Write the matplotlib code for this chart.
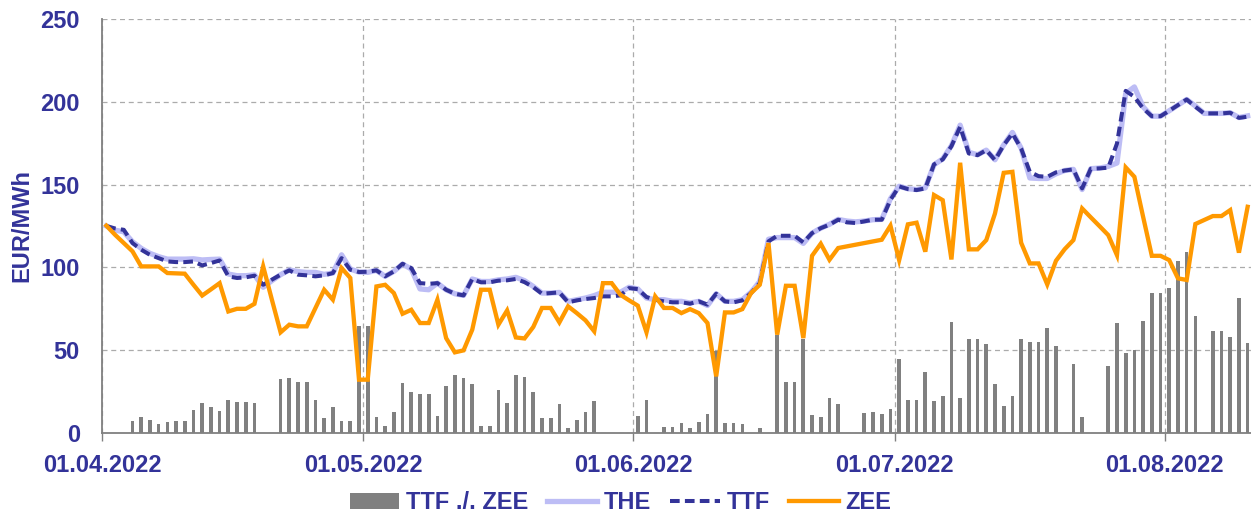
import matplotlib
matplotlib.use('Agg')
import matplotlib.pyplot as plt
import matplotlib.dates as mdates
import pandas as pd
from matplotlib.lines import Line2D
from matplotlib.patches import Patch

plt.rcParams['font.family'] = ['Liberation Sans', 'DejaVu Sans']

start = '2022-04-01'
n_days = 132

TTF = [125.0,123.5,122.7,114.7,110.7,107.6,105.6,103.6,103.2,103.2,
       103.6,101.2,102.6,104.2,94.6,93.6,94.0,95.0,89.5,92.6,
       95.6,98.2,95.6,95.2,94.6,95.2,96.6,105.6,98.6,97.2,
       97.4,98.2,94.6,97.6,102.2,99.6,90.5,90.1,90.5,86.5,
       84.1,83.1,93.0,91.0,91.0,92.0,92.2,93.0,91.1,88.1,
       84.1,84.5,84.9,78.9,80.1,80.9,81.5,82.5,82.5,83.1,
       87.5,86.9,82.1,80.5,79.5,78.9,78.9,78.1,79.5,77.5,
       84.1,79.5,78.9,80.1,84.5,90.5,115.7,119.1,119.1,119.1,
       115.1,120.7,123.7,125.8,128.8,127.2,126.8,127.8,128.8,128.8,
       140.8,148.9,147.3,146.7,147.7,162.2,165.2,173.2,184.9,168.8,
       167.8,170.8,164.8,173.8,180.9,171.8,157.7,155.1,154.7,157.4,
       158.5,159.2,147.7,159.6,159.8,160.2,174.8,206.6,203.0,196.0,
       191.3,191.3,194.6,198.0,201.4,197.0,193.0,193.0,193.0,193.4,
       190.3,191.0]

THE = [125.0,122.5,121.5,115.5,111.5,108.5,106.5,105.0,105.0,105.0,
       105.2,104.5,104.8,105.0,96.0,95.0,95.0,95.5,88.0,92.0,
       95.6,98.5,97.5,97.0,97.0,95.8,96.6,107.6,99.0,97.2,
       97.0,98.2,94.6,97.6,102.0,99.0,87.0,86.5,90.5,86.5,
       84.1,83.1,93.0,91.5,91.5,92.5,93.0,94.0,92.0,88.5,
       84.5,84.5,84.9,79.5,80.5,81.5,83.0,85.0,85.0,85.0,
       88.0,87.0,81.5,80.5,80.5,79.5,79.5,78.5,79.5,77.0,
       84.1,79.5,79.5,80.5,85.0,91.5,117.0,118.0,118.0,118.0,
       114.5,120.7,123.7,126.0,129.0,128.0,127.5,128.0,128.8,129.0,
       141.5,149.0,147.5,147.0,148.0,162.0,165.5,173.5,185.9,169.5,
       168.0,170.8,165.0,174.0,181.5,172.0,154.0,153.7,153.7,156.5,
       158.5,159.2,147.0,159.6,160.0,161.0,163.0,205.0,209.0,197.0,
       191.3,191.3,194.6,198.0,201.4,197.5,193.0,193.0,193.0,193.4,
       190.5,191.5]

ZEE = [125.2,119.7,114.7,109.7,100.6,100.6,100.6,96.6,96.4,96.2,
       89.5,83.0,86.7,90.5,73.4,75.0,75.0,78.0,100.6,80.5,
       60.8,65.4,64.4,64.4,75.5,86.5,80.5,99.6,93.6,32.2,
       32.2,88.5,89.5,84.5,72.0,74.4,66.4,66.4,80.5,57.3,
       48.7,49.9,62.4,86.5,86.5,65.4,74.0,57.7,57.1,64.0,
       75.5,75.5,66.8,76.5,72.4,68.0,61.4,90.5,90.5,83.5,
       80.1,76.9,60.8,82.5,75.5,75.5,72.4,74.8,72.4,66.4,
       34.2,72.8,72.8,74.8,84.5,89.5,114.7,59.4,88.9,88.9,
       57.3,107.0,114.3,104.6,111.7,112.7,113.7,114.7,115.7,116.7,
       125.2,104.4,126.0,127.0,109.5,143.7,140.6,104.8,163.2,110.9,
       110.9,116.5,132.6,157.1,157.7,114.9,102.4,102.4,89.7,104.0,
       111.0,116.5,135.6,130.2,124.9,119.5,107.4,160.4,154.7,130.6,
       107.0,107.0,104.4,93.4,92.4,126.2,128.6,131.0,131.0,134.6,
       108.9,136.6]

SPREAD = [0,0,0,7.4,9.5,7.8,5.6,6.6,7.0,7.0,
          13.7,18.0,16.0,13.3,20.0,19.0,19.0,18.0,-11,0,
          32.6,33.0,31.0,31.0,19.7,9.1,15.5,7.0,7.0,64.8,
          64.8,9.7,4.4,12.5,30.2,24.5,23.7,23.5,10.5,28.2,
          35.2,33.2,29.8,4.4,4.4,26.2,18.1,35.0,33.8,24.5,
          8.9,8.9,17.7,2.8,8.0,12.9,19.5,-8,-8,0,
          0,10.3,20.0,0,3.6,3.6,6.0,3.0,6.5,11.4,
          49.5,6.3,6.3,5.5,-2,3.0,-2,59.2,30.8,30.8,
          56.7,11.0,9.4,21.0,17.4,0,0,12.0,12.9,11.4,
          14.5,44.5,19.9,19.9,37.0,19.5,22.5,67.2,21.0,56.6,
          56.6,53.6,29.6,16.3,22.5,56.6,54.8,54.8,63.6,52.5,
          0,41.5,9.9,0,0,40.5,66.2,48.1,50.1,67.8,
          84.4,84.4,87.4,104.0,109.1,70.8,0,61.8,61.8,58.2,
          81.3,54.5]

labels = ['TTF ./. ZEE', 'THE', 'TTF', 'ZEE']
ylabel = 'EUR/MWh'

navy = '#333399'
c_bar = '#808080'
c_the = '#BDBDF5'
c_zee = '#FF9900'

days = pd.date_range(start, periods=n_days, freq='D')
x = days + pd.Timedelta(hours=12)

fig = plt.figure(figsize=(12.51, 5.18), dpi=100)
ax = fig.add_axes([102/1251, 85/518, 1150/1251, 414/518])

ttf_dash = (2.4, 1.3)
ax.bar(x, SPREAD, width=0.42, color=c_bar, zorder=2)
ax.plot(x, THE, color=c_the, lw=3.8, zorder=3, solid_joinstyle='round')
ax.plot(x, TTF, color=navy, lw=2.9, zorder=4, dashes=ttf_dash)
ax.plot(x, ZEE, color=c_zee, lw=3.1, zorder=5, solid_joinstyle='miter')

ax.set_xlim(pd.Timestamp(start), pd.Timestamp(start) + pd.Timedelta(days=n_days))
ax.set_ylim(0, 250)
ax.set_yticks([0, 50, 100, 150, 200, 250])
ax.xaxis.set_major_locator(mdates.MonthLocator())
ax.xaxis.set_major_formatter(mdates.DateFormatter('%d.%m.%Y'))

ax.set_axisbelow(True)
ax.grid(True, color='#ABABAB', linestyle=(0, (4, 3)), linewidth=0.9, zorder=0)

for s in ['top', 'right']:
    ax.spines[s].set_visible(False)
for s in ['left', 'bottom']:
    ax.spines[s].set_color('#808080')
    ax.spines[s].set_linewidth(1.3)
    ax.spines[s].set_zorder(6)

ax.tick_params(axis='x', length=6, width=1, color='#808080', pad=9,
               labelsize=17, labelcolor=navy)
ax.tick_params(axis='y', length=0, pad=16, labelsize=17, labelcolor=navy)
for lab in ax.get_xticklabels() + ax.get_yticklabels():
    lab.set_fontweight('bold')

ax.set_ylabel(ylabel, fontsize=17, fontweight='bold', color=navy)
ax.yaxis.set_label_coords(-0.0595, 0.5)

handles = [Patch(facecolor=c_bar, edgecolor='none'),
           Line2D([], [], color=c_the, lw=3.8),
           Line2D([], [], color=navy, lw=2.9, dashes=ttf_dash),
           Line2D([], [], color=c_zee, lw=3.1)]
fig.legend(handles, labels, loc='center', bbox_to_anchor=(0.496, 0.029),
           ncol=4, frameon=False, handlelength=2.1, handletextpad=0.3,
           columnspacing=0.8, prop={'size': 17, 'weight': 'bold'},
           labelcolor=navy)

fig.savefig('out.png', dpi=100)
